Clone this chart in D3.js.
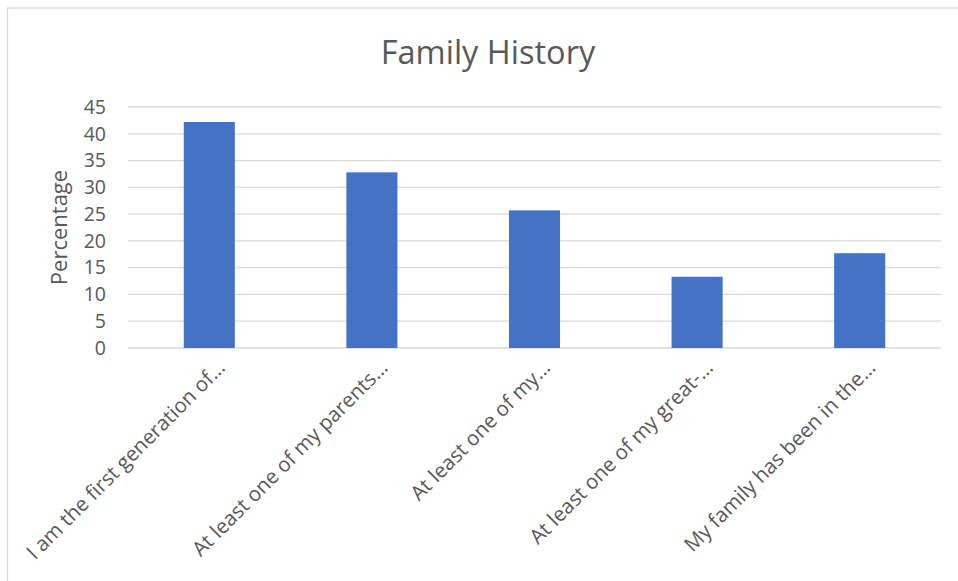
<!DOCTYPE html>
<html>
<head>
<meta charset="utf-8">
<script src="https://cdn.jsdelivr.net/npm/d3@7"></script>
<style>
  body { margin: 0; background: #fff; overflow: hidden; }
  text { font-family: "Open Sans", sans-serif; fill: #595959; }
</style>
</head>
<body>
<div id="chart"></div>
<script>
'use strict';

const categories = [
    'I am the first generation of…',
    'At least one of my parents…',
    'At least one of my…',
    'At least one of my great-…',
    'My family has been in the…'
];
const percentages = [42.2, 32.8, 25.7, 13.3, 17.7];
const yTicks = [0, 5, 10, 15, 20, 25, 30, 35, 40, 45];

const width = 958;
const height = 581;
const margin = {top: 107, right: 17, bottom: 233, left: 128};

const svg = d3.select('#chart').append('svg')
    .attr('width', width)
    .attr('height', height);

// chart border (right and bottom edges fall outside the picture)
svg.append('rect')
    .attr('x', 7.5).attr('y', 8)
    .attr('width', width + 20).attr('height', height + 20)
    .attr('fill', 'none')
    .attr('stroke', '#d9d9d9')
    .attr('stroke-width', 1.3);

const x = d3.scaleBand()
    .domain(categories)
    .range([margin.left, width - margin.right])
    .paddingInner(0.686)
    .paddingOuter(0.343);

const y = d3.scaleLinear()
    .domain([0, 45])
    .range([height - margin.bottom, margin.top]);

// gridlines
svg.append('g')
    .selectAll('line')
    .data(yTicks)
    .join('line')
    .attr('x1', margin.left)
    .attr('x2', width - margin.right)
    .attr('y1', d => y(d))
    .attr('y2', d => y(d))
    .attr('stroke', '#d9d9d9')
    .attr('stroke-width', 1.3);

// bars
svg.append('g')
    .selectAll('rect')
    .data(percentages)
    .join('rect')
    .attr('x', (d, i) => x(categories[i]))
    .attr('y', d => y(d))
    .attr('width', x.bandwidth())
    .attr('height', d => y(0) - y(d))
    .attr('fill', '#4472c4');

// y axis labels
const yAxis = d3.axisLeft(y).tickValues(yTicks).tickSize(0).tickPadding(0);
svg.append('g')
    .attr('transform', `translate(${margin.left - 22},0)`)
    .call(yAxis)
    .call(g => g.select('.domain').remove())
    .selectAll('text')
    .style('font-size', '19.5px')
    .style('font-family', '"Open Sans", sans-serif')
    .attr('fill', '#595959');

// x axis labels
svg.append('g')
    .selectAll('text')
    .data(categories)
    .join('text')
    .attr('transform', d => `translate(${x(d) + x.bandwidth() / 2 + 12},${y(0) + 16}) rotate(-45)`)
    .attr('text-anchor', 'end')
    .attr('dy', '0.35em')
    .style('font-size', '20.5px')
    .text(d => d);

// y axis title
svg.append('text')
    .attr('transform', `translate(67,${(y(0) + y(45)) / 2}) rotate(-90)`)
    .attr('text-anchor', 'middle')
    .style('font-size', '22px')
    .text('Percentage');

// chart title
svg.append('text')
    .attr('x', 488)
    .attr('y', 64)
    .attr('text-anchor', 'middle')
    .style('font-size', '32.5px')
    .text('Family History');
</script>
</body>
</html>
